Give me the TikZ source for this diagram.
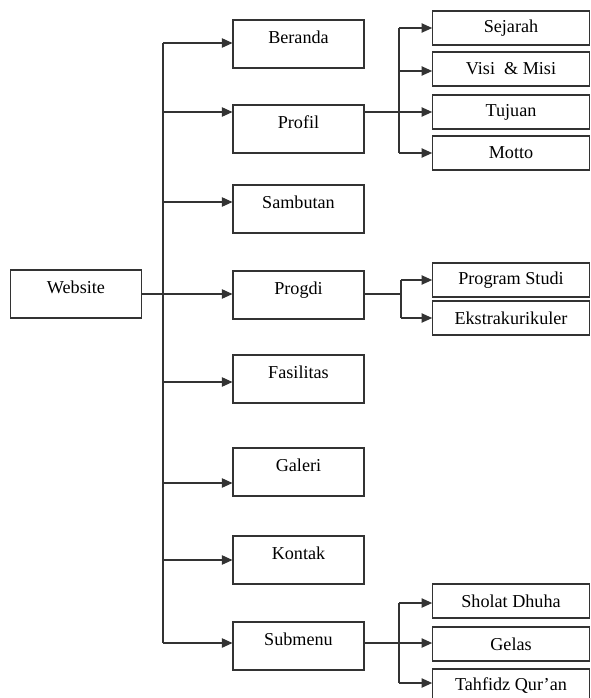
\documentclass[tikz,border=0pt]{standalone}
\usepackage{fontspec}
\setmainfont{Liberation Serif}
\usetikzlibrary{arrows.meta}

\tikzset{
    menu/.style={draw, rectangle, minimum width=3.93cm, minimum height=1.44cm,
        text height=0.7em, text depth=0.8em, font=\fontsize{15.5}{18}\selectfont},
    subbox/.style={draw, rectangle, minimum width=4.7cm, minimum height=1.02cm,
        font=\fontsize{15.5}{18}\selectfont},
    arr/.style={-{Triangle[length=9pt,width=8pt]}}
}

\begin{document}
\begin{tikzpicture}[x=0.03cm, y=-0.03cm, line width=0.9pt, draw=black!80]
            \useasboundingbox (0,0) rectangle (591,698);

            \node at (76,294)[menu] (web){Website};

            \foreach \n / \t / \y / \a in {beranda/Beranda/44/43, profil/Profil/129/112,
                sambutan/Sambutan/209/202, progdi/Progdi/295/294, fasilitas/Fasilitas/379/382,
                galeri/Galeri/472/483, kontak/Kontak/560/560, submenu/Submenu/646/643}
                {
                    \node at (298.5,\y)[menu] (\n){\t};
                    \coordinate (\n-in) at (163,\a);
                    \draw[arr] (\n-in) -- (\n.west |- \n-in);
                }

            \draw (beranda-in) -- (submenu-in);
            \draw (web.east |- progdi-in) -- (progdi-in);

            % profil
            \coordinate (profil-fork) at (399,112);
            \draw (profil.east |- profil-fork) -- (profil-fork);
            \foreach \n / \t / \y / \a in {sejarah/Sejarah/28/28, visimisi/{Visi \ \& Misi}/69/71,
                tujuan/Tujuan/112/112, motto/Motto/153/153}
                {
                    \node at (511,\y)[subbox] (\n){\t};
                    \coordinate (\n-in) at (399,\a);
                    \draw[arr] (\n-in) -- (\n.west |- \n-in);
                }
            \draw (sejarah-in) -- (motto-in);

            % progdi
            \coordinate (progdi-fork) at (401,294);
            \draw (progdi.east |- progdi-fork) -- (progdi-fork);
            \foreach \n / \t / \y / \a in {prodi/Program Studi/280/280, ekskul/Ekstrakurikuler/318/318}
                {
                    \node at (511,\y)[subbox] (\n){\t};
                    \coordinate (\n-in) at (401,\a);
                    \draw[arr] (\n-in) -- (\n.west |- \n-in);
                }
            \draw (prodi-in) -- (ekskul-in);

            % submenu
            \coordinate (submenu-fork) at (399,643);
            \draw (submenu.east |- submenu-fork) -- (submenu-fork);
            \foreach \n / \t / \y / \a in {sholat/Sholat Dhuha/601/603, gelas/Gelas/644/643,
                tahfidz/Tahfidz Qur'an/686/683}
                {
                    \node at (511,\y)[subbox] (\n){\t};
                    \coordinate (\n-in) at (399,\a);
                    \draw[arr] (\n-in) -- (\n.west |- \n-in);
                }
            \draw (sholat-in) -- (tahfidz-in);

        \end{tikzpicture}
\end{document}
